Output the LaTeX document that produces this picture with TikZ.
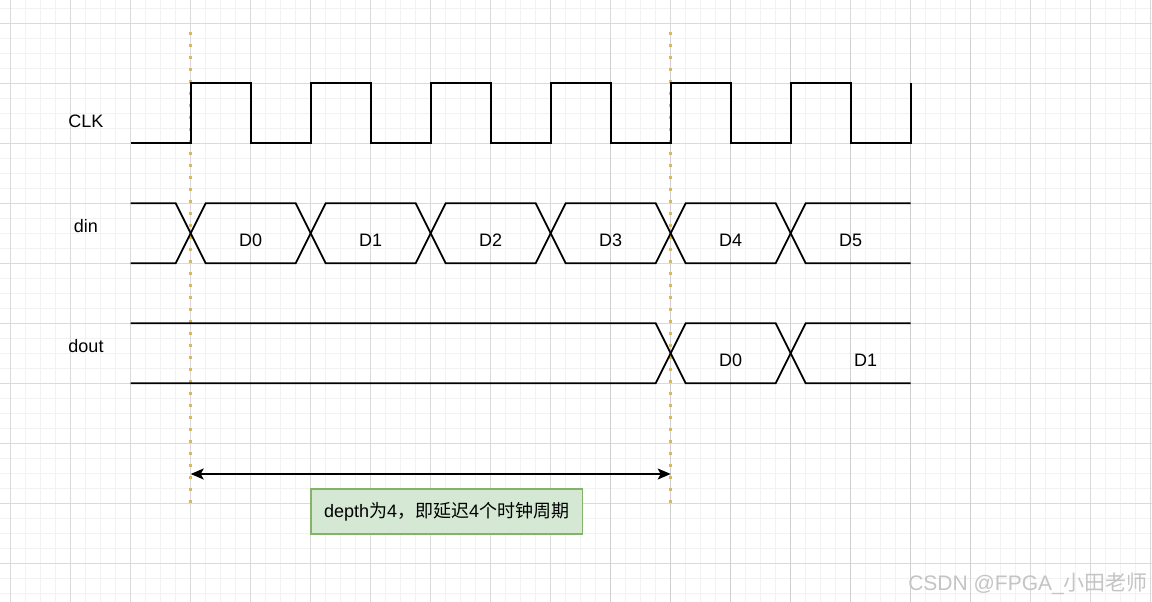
\documentclass[tikz,border=0pt]{standalone}
\usepackage{fontspec}
\setmainfont{Liberation Sans}
\newfontfamily\cjk{Noto Sans CJK SC}
\usetikzlibrary{arrows.meta}
\definecolor{minorg}{HTML}{F2F2F2}
\definecolor{majorg}{HTML}{DADADA}
\definecolor{darkg}{HTML}{D0D0D0}
\definecolor{dotc}{HTML}{DDB85A}
\definecolor{notefill}{HTML}{D5E8D4}
\definecolor{notedraw}{HTML}{82B366}
\definecolor{wm}{HTML}{C4C4C4}
\tikzset{
  minorgrid/.style={draw=minorg,line width=1pt},
  majorgrid/.style={draw=majorg,line width=1pt},
  darkgrid/.style={draw=darkg,line width=1.4pt},
  sig/.style={draw=black,line width=1.8pt,line join=miter},
  guide/.style={draw=dotc,line width=3.2pt,dash pattern=on 3.2pt off 8.8pt},
  lbl/.style={font=\fontsize{18}{20}\selectfont,inner sep=0pt,anchor=base},
  dimarrow/.style={draw=black,line width=1.8pt,{Stealth[length=13pt,width=11pt,inset=3pt]}-{Stealth[length=13pt,width=11pt,inset=3pt]}},
  notebox/.style={fill=notefill,draw=notedraw,line width=1.2pt,minimum width=271.3pt,minimum height=45pt,inner sep=0pt,font=\fontsize{18}{20}\selectfont},
}
\begin{document}
\begin{tikzpicture}[x=1pt,y=-1pt]
\useasboundingbox (0,0) rectangle (1152,602);
\fill[white] (0,0) rectangle (1152,602);
% grid
\foreach \i in {0,...,77} {\draw[minorgrid] ({-4.3+15*\i},0) -- ({-4.3+15*\i},602);}
\foreach \j in {0,...,41} {\draw[minorgrid] (0,{-6.7+15*\j}) -- (1152,{-6.7+15*\j});}
\foreach \i in {0,...,19} {\draw[majorgrid] ({10.7+60*\i},0) -- ({10.7+60*\i},602);}
\foreach \j in {0,...,9} {\draw[majorgrid] (0,{23.3+60*\j}) -- (1152,{23.3+60*\j});}
\foreach \i in {10,...,16} {\draw[darkgrid] ({10.7+60*\i},39) -- ({10.7+60*\i},602);}
% guides
\coordinate (g1t) at (190.7,32.1);
\coordinate (g1b) at (190.7,503);
\coordinate (g2t) at (670.7,32.1);
\coordinate (g2b) at (670.7,503);
\draw[guide] (g1t) -- (g1b);
\draw[guide] (g2t) -- (g2b);
% labels
\node[lbl] (clk) at (86,127.5) {CLK};
\node[lbl] (din) at (86,232.5) {din};
\node[lbl] (dout) at (86,352.5) {dout};
% CLK waveform
\draw[sig] (130.7,143.3)
  foreach \k in {0,...,5} { -- ({190.7+120*\k},143.3) -- ({190.7+120*\k},83.3) -- ({250.7+120*\k},83.3) -- ({250.7+120*\k},143.3) }
  -- (910.7,143.3) -- (910.7,83.3);
% din waveform
\draw[sig] (130.7,203.3)
  foreach \k in {0,2,4} { -- ({175.7+120*\k},203.3) -- ({205.7+120*\k},263.3) -- ({295.7+120*\k},263.3) -- ({325.7+120*\k},203.3) }
  -- (910.7,203.3);
\draw[sig] (130.7,263.3)
  foreach \k in {0,2,4} { -- ({175.7+120*\k},263.3) -- ({205.7+120*\k},203.3) -- ({295.7+120*\k},203.3) -- ({325.7+120*\k},263.3) }
  -- (910.7,263.3);
\node[lbl] (d0) at (250.7,246.5) {D0};
\node[lbl] (d1) at (370.7,246.5) {D1};
\node[lbl] (d2) at (490.7,246.5) {D2};
\node[lbl] (d3) at (610.7,246.5) {D3};
\node[lbl] (d4) at (730.7,246.5) {D4};
\node[lbl] (d5) at (850.7,246.5) {D5};
% dout waveform
\draw[sig] (130.7,323.3) -- (655.7,323.3) -- (685.7,383.3) -- (775.7,383.3) -- (805.7,323.3) -- (910.7,323.3);
\draw[sig] (130.7,383.3) -- (655.7,383.3) -- (685.7,323.3) -- (775.7,323.3) -- (805.7,383.3) -- (910.7,383.3);
\node[lbl] (q0) at (730.7,366.5) {D0};
\node[lbl] (q1) at (865.7,366.5) {D1};
% dimension arrow
\coordinate (arrL) at (190.7,474);
\coordinate (arrR) at (670.7,474);
\draw[dimarrow] (arrL) -- (arrR);
% note
\node[notebox] (note) at (446.7,511.5) {depth{\cjk 为}4{\cjk ，即延迟}4{\cjk 个时钟周期}};
% watermark
\node[font=\fontsize{21}{23}\selectfont,text=wm,inner sep=0pt,anchor=base east] (wmark) at (1148,590.5) {CSDN @FPGA\_{\cjk 小田老师}};
\end{tikzpicture}
\end{document}
